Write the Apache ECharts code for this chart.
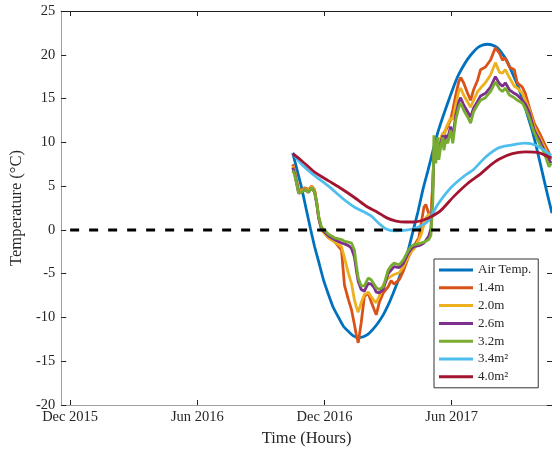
<!DOCTYPE html>
<html>
<head>
<meta charset="utf-8">
<script src="https://cdn.jsdelivr.net/npm/echarts@6/dist/echarts.min.js"></script>
<style>
html,body{margin:0;padding:0;background:#fff;}
#chart{width:552px;height:452px;}
</style>
</head>
<body>
<div id="chart"></div>
<script>
// x values: months since 1 Dec 2015
const tickValues = [0, 6, 12, 18];
const tickLabels = ['Dec 2015', 'Jun 2016', 'Dec 2016', 'Jun 2017'];

const airT = [10.50,10.73,10.92,11.16,11.34,11.53,11.72,11.95,12.19,12.42,12.66,12.89,13.13,13.36,13.59,13.83,14.06,14.30,14.53,14.77,15.00,15.23,15.47,15.70,15.94,16.17,16.41,16.64,16.88,17.11,17.34,17.58,17.81,18.05,18.28,18.52,18.75,18.98,19.22,19.45,19.69,19.92,20.16,20.39,20.63,20.86,21.09,21.33,21.56,21.80,22.03,22.27,22.50,22.73];
const airV = [8.8,6.6,4.8,2.1,0.1,-1.9,-3.6,-5.7,-7.4,-8.9,-10.0,-11.0,-11.6,-12.1,-12.3,-12.2,-11.9,-11.3,-10.6,-9.7,-8.6,-7.3,-5.8,-4.2,-2.4,-0.2,2.1,4.6,6.8,9.0,11.1,12.9,14.5,16.1,17.5,18.6,19.5,20.2,20.8,21.1,21.2,21.1,20.8,20.1,19.2,17.9,16.6,15.0,13.2,11.3,9.1,6.6,4.2,1.9];

const groundT = [10.50,10.59,10.78,10.92,11.06,11.25,11.39,11.53,11.63,11.72,11.86,12.19,12.47,12.80,12.94,13.13,13.27,13.41,13.50,13.59,13.73,13.88,14.06,14.20,14.34,14.44,14.58,14.77,15.00,15.14,15.28,15.52,15.70,15.94,16.08,16.22,16.45,16.55,16.69,16.78,16.92,17.02,17.11,17.16,17.25,17.34,17.39,17.48,17.58,17.63,17.72,17.81,17.95,18.05,18.19,18.33,18.42,18.56,18.75,18.89,19.03,19.22,19.36,19.59,19.83,20.06,20.25,20.39,20.53,20.72,20.95,21.09,21.33,21.47,21.66,21.89,22.13,22.36,22.59,22.69];
const t14 = [7.5,6.8,4.5,4.6,4.8,4.6,5.0,4.6,3.2,1.5, 0.0,-0.9,-1.3,-2.3,-6.3,-8.0,-9.1,-10.8,-12.0,-12.9, -10.6,-7.6,-7.2,-8.2,-9.1,-9.7,-8.3,-7.2,-6.5,-5.8, -6.2,-5.7,-4.8,-3.2,-2.5,-1.8,-0.9,0.6,2.6,2.9, 1.8,1.5,5.7,8.8,9.1,9.5,9.7,10.3,10.7,11.1, 11.4,11.8,12.6,13.7,15.4,16.9,17.4,16.8,15.6,14.8, 16.0,17.1,18.3,18.6,19.4,20.8,20.2,19.4,19.6,18.6, 18.3,16.8,16.3,15.6,14.0,12.2,11.1,9.9,8.8,8.0];
const t20 = [7.3,6.6,4.3,4.5,4.7,4.5,4.9,4.5,3.1,1.4, 0.0,-0.9,-1.4,-1.9,-3.2,-5.0,-6.1,-8.0,-8.8,-9.4, -8.3,-7.4,-7.1,-7.6,-8.1,-8.3,-7.6,-6.3,-5.5,-5.3, -5.1,-4.9,-4.3,-3.1,-2.5,-2.2,-1.1,-0.6,0.6,1.4, 1.8,1.6,5.1,8.6,8.6,9.7,9.1,10.5,11.1,10.5, 11.6,11.4,12.8,12.6,14.3,15.8,16.2,15.4,14.6,14.0, 14.8,15.8,16.2,16.8,17.7,19.1,18.0,17.9,18.3,17.4, 16.4,16.2,15.6,14.8,13.7,11.8,10.6,9.5,8.3,8.0];
const t26 = [7.1,6.4,4.2,4.3,4.6,4.3,4.8,4.3,3.0,1.4, 0.1,-0.7,-1.1,-1.5,-1.6,-1.8,-2.1,-3.1,-4.6,-5.9, -6.8,-7.0,-6.1,-6.2,-6.6,-7.1,-7.2,-6.8,-5.0,-4.6, -4.2,-4.3,-3.9,-2.7,-2.2,-1.9,-1.8,-1.7,-1.5,-1.3, -0.7,0.2,4.6,9.1,8.0,9.9,8.6,9.9,10.8,9.7, 10.8,10.5,11.8,10.5,13.1,14.6,15.1,14.3,13.5,12.9, 13.9,14.7,15.3,15.6,16.3,17.5,16.7,16.4,16.8,16.0, 15.6,15.4,14.8,14.4,13.4,11.4,10.3,9.1,8.0,7.6];
const t32 = [6.8,6.3,4.2,4.3,4.6,4.3,4.8,4.3,3.1,1.6, 0.3,-0.5,-0.9,-1.1,-1.3,-1.4,-1.5,-2.3,-4.0,-5.5, -6.4,-6.4,-5.5,-5.7,-6.2,-6.6,-6.8,-6.5,-4.6,-4.1, -3.8,-4.0,-3.5,-2.4,-1.9,-1.7,-1.6,-1.5,-1.4,-1.3, -1.1,-0.6,3.4,10.8,7.6,10.6,8.0,9.5,10.6,9.1, 10.3,9.9,11.4,9.9,12.6,14.0,14.5,13.7,12.9,12.2, 13.5,14.3,14.8,15.1,15.8,16.9,16.1,15.8,16.2,15.4, 15.1,14.8,14.5,13.9,12.8,11.1,9.9,8.8,7.2,7.6];

const lbT = [10.50,10.92,11.53,12.19,12.80,13.41,13.83,14.20,14.58,14.91,15.28,15.94,16.41,16.88,17.34,17.95,18.56,19.03,19.59,20.25,20.86,21.47,21.94,22.36,22.69];
const lbV = [8.8,7.5,6.2,5.0,3.7,2.6,2.1,1.6,0.7,0.1,-0.1,0.0,0.3,1.0,2.9,4.8,6.1,6.9,8.3,9.4,9.7,9.9,9.7,9.1,8.5];

const redT = [10.50,10.92,11.53,12.19,12.80,13.41,13.97,14.44,14.91,15.38,15.84,16.22,16.64,17.02,17.48,18.09,18.75,19.36,19.83,20.25,20.86,21.47,22.13,22.69];
const redV = [8.7,7.9,6.6,5.6,4.7,3.7,2.7,2.1,1.4,1.0,0.9,0.9,1.1,1.5,2.2,3.8,5.3,6.4,7.4,8.1,8.7,8.9,8.8,8.2];

const zeroT = [0, 22.73];
const zeroV = [0, 0];

const names = ['Air Temp.', '1.4m', '2.0m', '2.6m', '3.2m', '3.4m\u00B2', '4.0m\u00B2'];
const colors = ['#0072BD', '#D95319', '#EDB120', '#7E2F8E', '#77AC30', '#4DBEEE', '#A2142F'];

const zip = (xs, ys) => xs.map((x, i) => [x, ys[i]]);
const FONT = 'Liberation Serif';
const TXT = '#262626';

function lineSeries(name, color, data, smooth) {
  return {
    name, type: 'line', data, showSymbol: false, smooth: smooth,
    lineStyle: { color, width: 2.8 }, itemStyle: { color },
    emphasis: { disabled: true }, animation: false, clip: true
  };
}

const series = [
  lineSeries(names[0], colors[0], zip(airT, airV), 0.15),
  lineSeries(names[1], colors[1], zip(groundT, t14), false),
  lineSeries(names[2], colors[2], zip(groundT, t20), false),
  lineSeries(names[3], colors[3], zip(groundT, t26), false),
  lineSeries(names[4], colors[4], zip(groundT, t32), false),
  lineSeries(names[5], colors[5], zip(lbT, lbV), 0.25),
  lineSeries(names[6], colors[6], zip(redT, redV), 0.25),
  {
    name: 'zero', type: 'line', data: zip(zeroT, zeroV), showSymbol: false, z: 5,
    lineStyle: { color: '#000', width: 3, type: [9, 10] }, emphasis: { disabled: true }, animation: false
  }
];

const chart = echarts.init(document.getElementById('chart'), null, { renderer: 'canvas' });
chart.setOption({
  animation: false,
  backgroundColor: '#fff',
  grid: { left: 58, right: 0, top: 11, bottom: 47, containLabel: false },
  legend: {
    data: names, orient: 'vertical', left: 434, top: 259,
    icon: 'rect', itemWidth: 34, itemHeight: 3, itemGap: 3.8, itemTextGap: 5,
    padding: [4, 7, 4, 5],
    backgroundColor: '#fff', borderColor: '#333', borderWidth: 1, borderRadius: 0,
    textStyle: { fontFamily: FONT, fontSize: 13, color: TXT, lineHeight: 14 },
    selectedMode: false
  },
  xAxis: [
    {
      type: 'value', position: 'bottom', min: -0.42, max: 22.73,
      axisLine: { show: true, onZero: false, lineStyle: { color: '#a0a0a0', width: 1 } },
      axisTick: { show: true, inside: true, length: 5, customValues: tickValues, lineStyle: { color: '#222' } },
      axisLabel: {
        customValues: tickValues, margin: 5, fontFamily: FONT, fontSize: 14.5, color: TXT,
        formatter: v => { const i = tickValues.indexOf(v); return i >= 0 ? tickLabels[i] : ''; }
      },
      splitLine: { show: false },
      name: 'Time (Hours)', nameLocation: 'middle', nameGap: 24,
      nameTextStyle: { fontFamily: FONT, fontSize: 16.5, color: TXT }
    },
    {
      type: 'value', position: 'top', min: -0.42, max: 22.73,
      axisLine: { show: true, onZero: false, lineStyle: { color: '#222', width: 1 } },
      axisTick: { show: true, inside: true, length: 5, customValues: tickValues, lineStyle: { color: '#222' } },
      axisLabel: { show: false },
      splitLine: { show: false }
    }
  ],
  yAxis: [
    {
      type: 'value', position: 'left', min: -20, max: 25, interval: 5,
      axisLine: { show: true, onZero: false, lineStyle: { color: '#a0a0a0', width: 1 } },
      axisTick: { show: true, inside: true, length: 5, lineStyle: { color: '#222' } },
      axisLabel: { margin: 6, fontFamily: FONT, fontSize: 14.5, color: TXT },
      splitLine: { show: false },
      name: 'Temperature (\u00B0C)', nameLocation: 'middle', nameGap: 32,
      nameTextStyle: { fontFamily: FONT, fontSize: 16.5, color: TXT }
    },
    {
      type: 'value', position: 'right', min: -20, max: 25, interval: 5,
      axisLine: { show: false, onZero: false },
      axisTick: { show: true, inside: true, length: 5, lineStyle: { color: '#222' } },
      axisLabel: { show: false },
      splitLine: { show: false }
    }
  ],
  series: series
});
</script>
</body>
</html>
